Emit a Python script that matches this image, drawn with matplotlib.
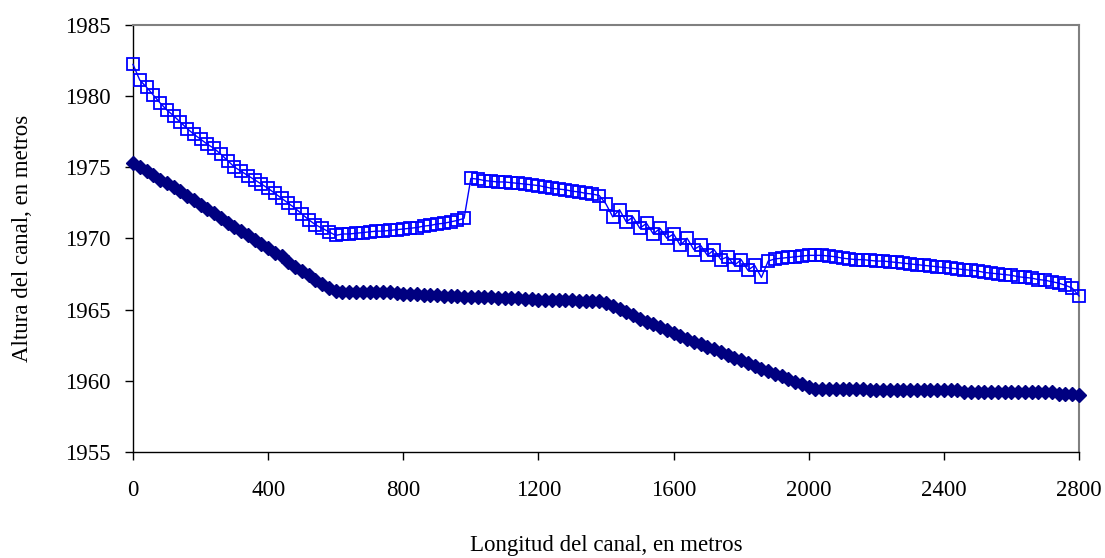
import matplotlib
matplotlib.use('Agg')
import matplotlib.pyplot as plt
import numpy as np

plt.rcParams['font.family'] = ['Liberation Serif', 'DejaVu Serif']

# distance along the canal, every 20 m
longitud = np.arange(0, 2801, 20)

# upper profile (open squares)
altura_sup = [
    1982.2, 1981.1, 1980.6, 1980.05, 1979.5, 1979.0, 1978.6, 1978.15, 1977.7, 1977.3,
    1976.95, 1976.6, 1976.3, 1975.9, 1975.45, 1975.0, 1974.7, 1974.4, 1974.1, 1973.8,
    1973.5, 1973.15, 1972.8, 1972.45, 1972.1, 1971.7, 1971.3, 1970.95, 1970.7, 1970.45,
    1970.2,
    1970.3, 1970.3, 1970.35, 1970.4, 1970.45, 1970.5, 1970.5, 1970.55, 1970.6, 1970.65,
    1970.7, 1970.75, 1970.85, 1970.9, 1971.0, 1971.05, 1971.15, 1971.25, 1971.4,
    1974.2, 1974.15, 1974.05, 1974.0, 1973.95, 1973.95, 1973.9, 1973.85, 1973.8, 1973.75,
    1973.7, 1973.6, 1973.5, 1973.45, 1973.4, 1973.3, 1973.25, 1973.15, 1973.1, 1973.0,
    1972.4, 1971.5, 1972.0, 1971.15, 1971.5, 1970.7, 1971.05, 1970.3, 1970.7, 1970.0,
    1970.3, 1969.5, 1970.0, 1969.2, 1969.5, 1968.8, 1969.2, 1968.5, 1968.7, 1968.1,
    1968.5, 1967.75, 1968.1, 1967.25, 1968.4,
    1968.55, 1968.6, 1968.65, 1968.7, 1968.75, 1968.8, 1968.8, 1968.8, 1968.75, 1968.7,
    1968.6, 1968.55, 1968.5, 1968.5, 1968.45, 1968.4, 1968.4, 1968.35, 1968.3, 1968.25,
    1968.2, 1968.15, 1968.1, 1968.05, 1968.0, 1967.95, 1967.9, 1967.85, 1967.8, 1967.75,
    1967.7, 1967.6, 1967.55, 1967.5, 1967.45, 1967.4, 1967.3, 1967.25, 1967.2, 1967.1,
    1967.05, 1966.95, 1966.85, 1966.7, 1966.5, 1965.95,
]

# lower profile (filled diamonds)
altura_inf = [
    1975.3, 1975.0, 1974.75, 1974.45, 1974.1, 1973.85, 1973.6, 1973.3, 1973.0, 1972.65,
    1972.35, 1972.05, 1971.75, 1971.45, 1971.1, 1970.8, 1970.5, 1970.2, 1969.85, 1969.6,
    1969.3, 1969.0, 1968.75, 1968.35, 1968.0, 1967.7, 1967.4, 1967.1, 1966.8, 1966.5,
    1966.3,
    1966.25, 1966.25, 1966.25, 1966.2, 1966.2, 1966.2, 1966.2, 1966.2, 1966.15, 1966.1,
    1966.1, 1966.1, 1966.05, 1966.0, 1966.0, 1965.95, 1965.95, 1965.95, 1965.9, 1965.9,
    1965.85, 1965.85, 1965.85, 1965.8, 1965.8, 1965.8, 1965.8, 1965.75, 1965.75, 1965.7,
    1965.7, 1965.7, 1965.7, 1965.65, 1965.65, 1965.6, 1965.6, 1965.6, 1965.6,
    1965.45, 1965.25, 1965.05, 1964.85, 1964.6, 1964.35, 1964.15, 1963.95, 1963.75, 1963.55,
    1963.35, 1963.15, 1962.95, 1962.75, 1962.55, 1962.4, 1962.2, 1962.0, 1961.8, 1961.6,
    1961.45, 1961.25, 1961.05, 1960.85, 1960.65, 1960.45, 1960.3, 1960.1, 1959.9, 1959.75,
    1959.55,
    1959.45, 1959.45, 1959.45, 1959.45, 1959.45, 1959.45, 1959.45, 1959.45,
    1959.35, 1959.35, 1959.35, 1959.35, 1959.35, 1959.35, 1959.35, 1959.35, 1959.35, 1959.35,
    1959.35, 1959.35, 1959.35, 1959.35,
    1959.2, 1959.2, 1959.2, 1959.2, 1959.2, 1959.2, 1959.2, 1959.2, 1959.2, 1959.2,
    1959.2, 1959.2, 1959.2, 1959.2,
    1959.1, 1959.05, 1959.05, 1959.0,
]

x_ticks = [0, 400, 800, 1200, 1600, 2000, 2400, 2800]
y_ticks = [1955, 1960, 1965, 1970, 1975, 1980, 1985]

fig = plt.figure(figsize=(11.05, 5.58), dpi=100)
ax = fig.add_axes([133 / 1105, 1 - 452 / 558, 946 / 1105, 427.5 / 558])

ax.plot(longitud, altura_inf, color='#000080', lw=1.5, marker='D', ms=7,
        mfc='#000080', mec='#000080', clip_on=False, zorder=3)
ax.plot(longitud, altura_sup, color='#0000FF', lw=1.0, marker='s', ms=9,
        mfc='none', mec='#0000FF', mew=1.3, clip_on=False, zorder=4)

ax.set_xlim(0, 2800)
ax.set_ylim(1955, 1985)
ax.set_xticks(x_ticks)
ax.set_yticks(y_ticks)

for side in ['top', 'right']:
    ax.spines[side].set_color('#808080')
    ax.spines[side].set_linewidth(1.5)
for side in ['left', 'bottom']:
    ax.spines[side].set_color('black')
    ax.spines[side].set_linewidth(1.0)

ax.tick_params(axis='x', direction='out', length=6, width=1, pad=14, labelsize=16.5)
ax.tick_params(axis='y', direction='out', length=6, width=1, pad=10, labelsize=16.5)

ax.set_xlabel('Longitud del canal, en metros', fontsize=16.5, va='center')
ax.xaxis.set_label_coords(0.5, (452 - 545) / 427.5)
ax.set_ylabel('Altura del canal, en metros', fontsize=16.5, va='center')
ax.yaxis.set_label_coords((23 - 133) / 946, 0.5)

fig.savefig('out.png', dpi=100)
